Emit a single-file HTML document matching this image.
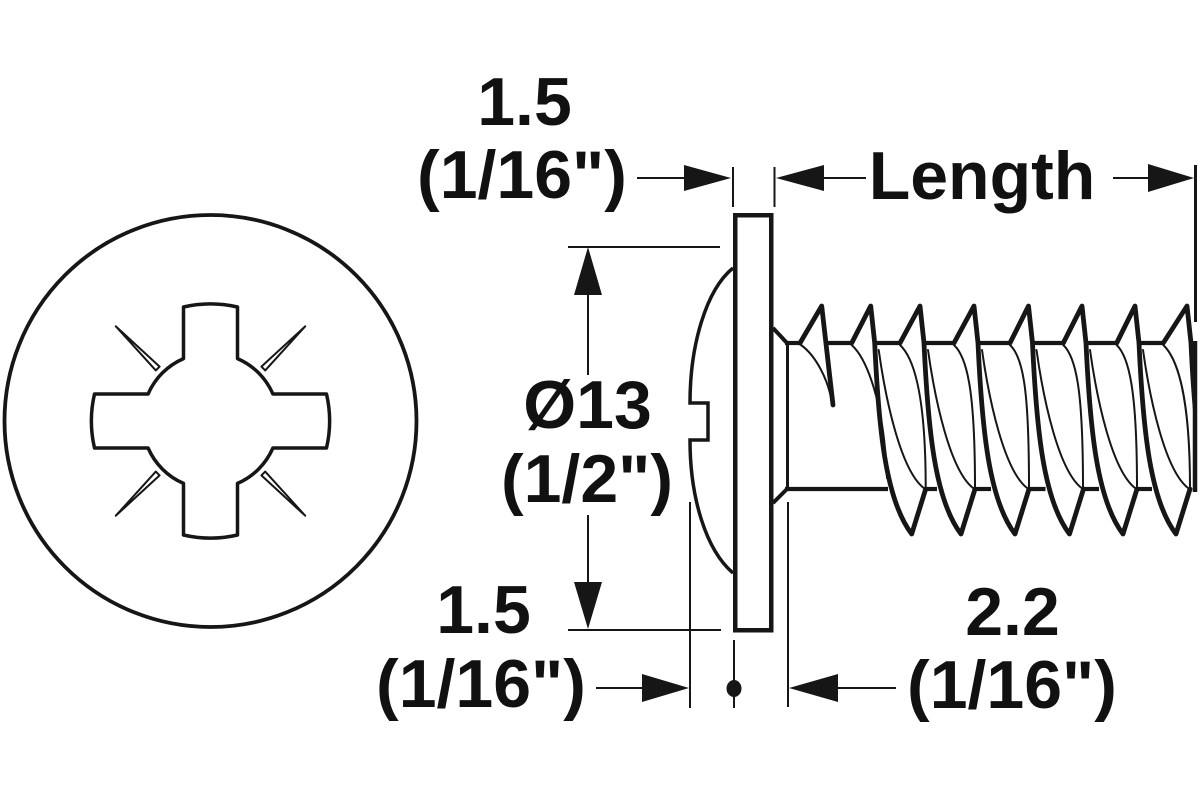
<!DOCTYPE html>
<html>
<head>
<meta charset="utf-8">
<style>
  html, body { margin: 0; padding: 0; background: #ffffff; }
  svg { display: block; }
  text { font-family: "Liberation Sans", "Helvetica", sans-serif; font-weight: bold; font-size: 68px; fill: #111111; }
</style>
</head>
<body>
<svg width="1200" height="800" viewBox="0 0 1200 800" xmlns="http://www.w3.org/2000/svg">
  <rect x="0" y="0" width="1200" height="800" fill="#ffffff"/>
  <defs>
    <clipPath id="clipR"><rect x="0" y="0" width="1196" height="800"/></clipPath>
  </defs>

  <!-- ===== Left: head top view ===== -->
  <circle cx="210.5" cy="421" r="206" fill="none" stroke="#161616" stroke-width="3.8"/>
  <!-- spikes -->
  <g fill="#ffffff" stroke="#161616" stroke-width="2" stroke-linejoin="round">
    <polygon points="115.8,326.3 159.6,366.6 155.8,370.4"/>
    <polygon points="305.2,326.3 265.2,370.4 261.4,366.6"/>
    <polygon points="115.8,515.7 155.8,471.6 159.6,475.4"/>
    <polygon points="305.2,515.7 261.4,475.4 265.2,471.6"/>
  </g>
  <!-- Pozidriv cross -->
  <path d="M183.5,307
           L183.5,358.6
           A68,68 0 0 0 148.1,394
           L94.5,394
           A119,119 0 0 0 94.5,448
           L148.1,448
           A68,68 0 0 0 183.5,483.4
           L183.5,535
           A119,119 0 0 0 237.5,535
           L237.5,483.4
           A68,68 0 0 0 272.9,448
           L326.5,448
           A119,119 0 0 0 326.5,394
           L272.9,394
           A68,68 0 0 0 237.5,358.6
           L237.5,307
           A119,119 0 0 0 183.5,307 Z"
        fill="#ffffff" stroke="#161616" stroke-width="3.5" stroke-linejoin="round"/>

  <!-- ===== Dimension lines ===== -->
  <g stroke="#161616" stroke-width="2" fill="none">
    <line x1="733" y1="167" x2="733" y2="207"/>
    <line x1="774.5" y1="167" x2="774.5" y2="207"/>
    <line x1="637" y1="178" x2="690" y2="178"/>
    <line x1="820" y1="178" x2="866" y2="178"/>
    <line x1="1113" y1="178" x2="1152" y2="178"/>
    <line x1="568" y1="247" x2="720" y2="247"/>
    <line x1="568" y1="630" x2="721" y2="630"/>
    <line x1="588" y1="290" x2="588" y2="375"/>
    <line x1="588" y1="515" x2="588" y2="586"/>
    <line x1="690" y1="502" x2="690" y2="708"/>
    <line x1="788" y1="502" x2="788" y2="707"/>
    <line x1="734" y1="640" x2="734" y2="708"/>
    <line x1="596" y1="688" x2="645" y2="688"/>
    <line x1="835" y1="688" x2="896" y2="688"/>
  </g>
  <line x1="1195.5" y1="165" x2="1195.5" y2="322" stroke="#161616" stroke-width="3"/>

  <!-- arrowheads -->
  <g fill="#161616" stroke="none">
    <polygon points="731,178 684,165 684,191"/>
    <polygon points="776,178 824,165 824,191"/>
    <polygon points="1194,178 1148,164 1148,192"/>
    <polygon points="588,247 574,295 602,295"/>
    <polygon points="588,629 574,582 602,582"/>
    <polygon points="689,688 642,674 642,702"/>
    <polygon points="789,688 838,674 838,702"/>
    <ellipse cx="734" cy="688.5" rx="7.5" ry="8.5"/>
  </g>

  <!-- ===== Side view screw ===== -->
  <path d="M733,268 C706,290 690,345 690,403 L708,403 L708,440 L690,440 C690,498 706,550 733,573"
        fill="none" stroke="#161616" stroke-width="3.5" stroke-linejoin="miter"/>
  <rect x="735.25" y="215.25" width="36" height="415" fill="#ffffff" stroke="#161616" stroke-width="4.5"/>

  <g stroke="#161616" fill="none" stroke-linecap="butt">
    <path d="M773,328 L787,343" stroke-width="4"/>
    <path d="M787,489 L773,503" stroke-width="4"/>
    <line x1="787.5" y1="343" x2="787.5" y2="489" stroke-width="3"/>
  </g>

  <g clip-path="url(#clipR)" stroke="#161616" fill="none" stroke-linejoin="round" stroke-linecap="round">
    <g stroke-width="4.2" stroke-linecap="butt">
      <line x1="785" y1="343" x2="801" y2="343"/>
      <line x1="826" y1="343" x2="852" y2="343"/>
      <line x1="875.7" y1="343" x2="900" y2="343"/>
      <line x1="925" y1="343" x2="954" y2="343"/>
      <line x1="979" y1="343" x2="1010" y2="343"/>
      <line x1="1033.5" y1="343" x2="1063.3" y2="343"/>
      <line x1="1087" y1="343" x2="1116.7" y2="343"/>
      <line x1="1140" y1="343" x2="1163.3" y2="343"/>
      <line x1="785" y1="489" x2="888" y2="489"/>
      <line x1="925.7" y1="489" x2="937" y2="489"/>
      <line x1="975" y1="489" x2="991" y2="489"/>
      <line x1="1029" y1="489" x2="1045.5" y2="489"/>
      <line x1="1083" y1="489" x2="1099" y2="489"/>
      <line x1="1137" y1="489" x2="1152" y2="489"/>
    </g>

    <path d="M800,343 L821.7,306 L833,405" stroke-width="4.8"/>
    <path d="M801,345 C815,355 828,378 832,403" stroke-width="2"/>

    <g stroke-width="4.8">
      <path d="M851.7,343 L870.7,306 L874.7,343 C878.7,430 885.7,500 911.7,534 L925.7,489"/>
      <path d="M900,343 L920,306 L924,343 C928,430 935,500 961,534 L975,489"/>
      <path d="M954,343 L974,306 L978,343 C982,430 989,500 1015,534 L1029,489"/>
      <path d="M1010,343 L1028.5,306 L1032.5,343 C1036.5,430 1043.5,500 1069.5,534 L1083.5,489"/>
      <path d="M1063.3,343 L1082,306 L1086,343 C1090,430 1097,500 1123,534 L1137,489"/>
      <path d="M1116.7,343 L1135,306 L1139,343 C1143,430 1150,500 1176,534 L1190,489"/>
      <path d="M1163.3,343 L1187,306 L1191,343 C1195,430 1202,500 1228,534"/>
    </g>
    <g stroke-width="2">
      <path d="M878.7,350 C885.7,400 900.7,470 923.7,488"/>
      <path d="M928,350 C935,400 950,470 973,488"/>
      <path d="M982,350 C989,400 1004,470 1027,488"/>
      <path d="M1036.5,350 C1043.5,400 1058.5,470 1081.5,488"/>
      <path d="M1090,350 C1097,400 1112,470 1135,488"/>
      <path d="M1143,350 C1150,400 1165,470 1188,488"/>
      <path d="M1195,350 C1202,400 1217,470 1240,488"/>
      <path d="M851.7,345 C866,358 884,400 887,478"/>
      <path d="M900,345 C914,358 925.7,395 925.7,488"/>
      <path d="M954,345 C968,358 975,395 975,488"/>
      <path d="M1010,345 C1024,358 1029,395 1029,488"/>
      <path d="M1063.3,345 C1077,358 1083,395 1083,488"/>
      <path d="M1116.7,345 C1130,358 1137,395 1137,488"/>
      <path d="M1163.3,345 C1177,358 1190,395 1190,488"/>
    </g>
  </g>
  <line x1="1195" y1="341" x2="1195" y2="492" stroke="#161616" stroke-width="4.5"/>

  <!-- ===== Labels ===== -->
  <text x="524.5" y="125" text-anchor="middle">1.5</text>
  <text x="522" y="198" text-anchor="middle">(1/16")</text>
  <text x="982" y="199" text-anchor="middle">Length</text>
  <text x="587.5" y="428" text-anchor="middle">Ø13</text>
  <text x="587" y="502" text-anchor="middle">(1/2")</text>
  <text x="483.5" y="633" text-anchor="middle">1.5</text>
  <text x="481" y="707" text-anchor="middle">(1/16")</text>
  <text x="1012.5" y="635" text-anchor="middle">2.2</text>
  <text x="1012" y="708" text-anchor="middle">(1/16")</text>
</svg>
</body>
</html>
